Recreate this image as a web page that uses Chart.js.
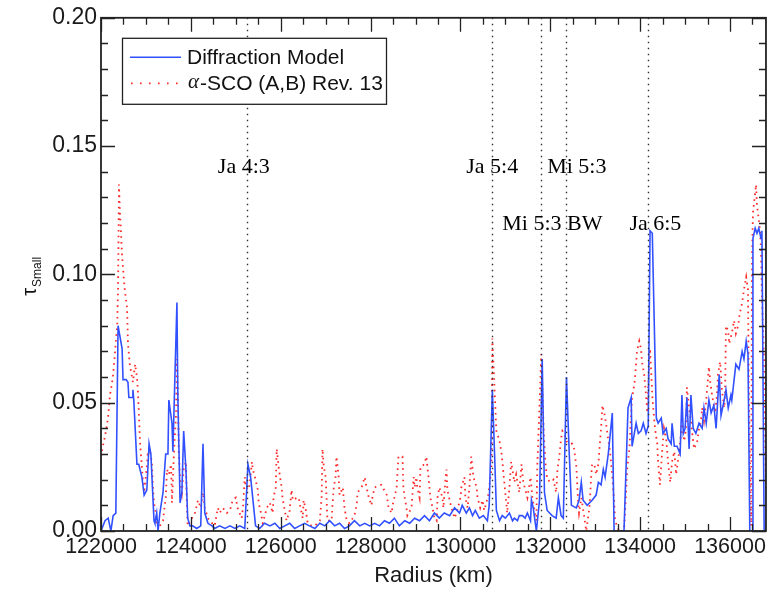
<!DOCTYPE html>
<html>
<head>
    <title>Diffraction Model vs alpha-SCO</title>
    <script src="https://cdn.jsdelivr.net/npm/chart.js@4.4.1/dist/chart.umd.min.js"></script>
    <style>
        body {
            margin: 0;
            background: #fff;
        }
        #wrap {
            width: 769px;
            height: 589px;
        }
    </style>
</head>
<body>
    <div id="wrap"><canvas id="chart" width="769" height="589"></canvas></div>

    <script>
        // diffraction model (blue)
        const modelRadius = [
            122000,122090,122160,122220,122270,122330,122380,122470,122490,122560,
            122600,122620,122690,122710,122730,122800,122840,122910,122960,123020,
            123070,123110,123180,123200,123240,123270,123310,123380,123440,123490,
            123510,123580,123600,123690,123710,123760,123800,123840,123890,123930,
            123980,124040,124130,124220,124270,124310,124380,124470,124530,124640,
            124760,124870,124980,125090,125200,125270,125330,125400,125440,125530,
            125640,125760,125870,125980,126090,126200,126310,126420,126530,126640,
            126760,126870,126980,127090,127200,127310,127420,127530,127640,127760,
            127870,127980,128090,128200,128310,128420,128530,128640,128760,128870,
            128980,129090,129200,129310,129420,129530,129640,129760,129870,129980,
            130040,130130,130200,130270,130330,130420,130510,130600,130640,130710,
            130760,130800,130870,130930,131000,131090,131160,131200,131270,131310,
            131380,131440,131490,131560,131580,131620,131690,131760,131820,131870,
            131930,132040,132130,132180,132240,132290,132360,132420,132470,132580,
            132640,132690,132730,132820,132930,133020,133070,133130,133180,133220,
            133290,133380,133420,133640,133730,133800,133820,133910,133960,134020,
            134070,134130,134180,134220,134270,134360,134400,134470,134510,134580,
            134620,134690,134710,134760,134820,134890,134930,134960,135000,135040,
            135090,135130,135180,135240,135310,135380,135420,135470,135530,135580,
            135640,135690,135760,135800,135870,135910,135960,136020,136040,136130,
            136200,136270,136310,136360,136400,136440,136490,136510,136560,136600,
            136640,136690,136710,136760,136800
        ];
        const modelTau = [
            0,.004,.005,0,.006,.007,.080,.071,.059,.059,
            .058,.052,.052,.055,.051,.026,.026,.021,.014,.016,
            .034,.030,.004,.003,.007,0,.007,.015,.030,.030,
            .051,.042,.031,.089,.053,.011,.015,.039,.024,.005,
            .002,.002,.001,.002,.034,.007,.003,.002,.001,.002,
            .001,.002,.001,.002,.001,.026,.021,.009,.002,.001,
            .003,.002,.003,.001,.002,.003,.001,.002,.003,.002,
            .001,.003,.002,.004,.002,.003,.001,.002,.004,.002,
            .003,.002,.003,.002,.004,.003,.005,.002,.004,.003,
            .005,.004,.006,.004,.007,.005,.007,.006,.009,.007,
            .010,.007,.009,.006,.008,.005,.006,.004,.010,.055,
            .030,.008,.004,.006,.005,.007,.004,.005,.004,.006,
            .006,.005,.007,.004,.012,.009,0,.012,.067,.015,
            .008,.006,.005,.013,.006,.005,.060,.031,.010,.009,
            .012,.019,.012,.010,.012,.014,.019,.018,.024,.021,
            .030,.046,0,0,.048,.052,.033,.042,.038,.039,
            .042,.038,.041,.117,.116,.044,.042,.044,.038,.040,
            .036,.034,.042,.033,.033,.030,.053,.038,.040,.052,
            .032,.053,.040,.038,.042,.040,.048,.042,.051,.046,
            .049,.040,.061,.045,.051,.055,.048,.053,.051,.065,
            .063,.070,.067,.074,.069,0,0,.114,.118,.116,
            .118,.114,.117,0,0
        ];

        // alpha-SCO (A,B) Rev. 13 (red dotted)
        const scoRadius = [
            122000,122040,122090,122130,122160,122200,122240,122270,122310,122330,
            122360,122380,122400,122420,122470,122510,122530,122580,122600,122640,
            122670,122710,122760,122800,122820,122840,122870,122910,122930,122960,
            123020,123040,123090,123130,123160,123180,123220,123240,123310,123380,
            123440,123470,123510,123560,123580,123600,123620,123670,123690,123710,
            123730,123760,123800,123840,123890,123910,123930,124090,124160,124220,
            124270,124310,124380,124420,124530,124600,124640,124710,124800,124870,
            124930,125000,125040,125130,125160,125200,125220,125270,125310,125360,
            125380,125440,125490,125510,125560,125600,125690,125760,125820,125840,
            125890,125910,125960,126020,126040,126090,126130,126200,126240,126270,
            126360,126400,126440,126490,126510,126560,126600,126690,126760,126870,
            126910,126930,126960,127000,127020,127040,127130,127180,127220,127240,
            127290,127310,127380,127420,127470,127530,127640,127690,127710,127800,
            127870,127910,127960,128020,128040,128090,128240,128360,128400,128470,
            128490,128530,128580,128620,128710,128730,128760,128800,128820,128910,
            128960,128980,129020,129040,129090,129110,129200,129240,129290,129330,
            129380,129420,129470,129490,129530,129600,129620,129670,129690,129710,
            129760,129800,129870,129930,130000,130020,130090,130110,130160,130200,
            130240,130290,130360,130380,130440,130490,130530,130620,130640,130690,
            130710,130800,130870,130910,130960,131020,131040,131090,131130,131200,
            131240,131310,131360,131400,131490,131560,131600,131690,131710,131760,
            131800,131820,131850,131890,131930,132020,132070,132130,132160,132200,
            132240,132270,132310,132360,132420,132490,132530,132580,132620,132640,
            132690,132760,132800,132870,132910,132930,132980,133020,133070,133090,
            133130,133160,133200,133240,133270,133330,133380,133420,133440,133530,
            133640,133690,133710,133760,133800,133820,133870,133910,133930,133980,
            134020,134040,134090,134130,134160,134200,134220,134270,134290,134330,
            134380,134400,134440,134490,134530,134580,134620,134670,134710,134760,
            134800,134870,134910,134930,134980,135020,135040,135090,135130,135160,
            135200,135270,135310,135360,135380,135420,135470,135490,135530,135560,
            135600,135670,135710,135730,135780,135820,135870,135890,135910,135960,
            135980,136040,136090,136130,136180,136220,136270,136310,136360,136400,
            136420,136470,136490,136510,136580,136600,136670,136690,136710,136760,
            136780,136800
        ];
        const scoTau = [
            .029,.033,.037,.041,.045,.053,.057,.061,.069,.074,
            .080,.095,.135,.125,.107,.098,.094,.087,.073,.065,
            .062,.058,.065,.060,.055,.047,.034,.025,.020,.015,
            .025,.030,.031,.027,.016,.011,.007,.003,.002,.004,
            .013,.024,.022,.026,.011,.020,.029,.046,.067,.056,
            .031,.020,.015,.024,.027,.011,.002,.007,.012,.009,
            .015,.009,.005,.004,.002,.009,.007,.009,.007,.008,
            .012,.013,.009,.005,.009,.021,.017,.016,.018,.027,
            .024,.020,.016,.011,.007,.003,.009,.011,.007,.013,
            .017,.032,.024,.017,.013,.008,.004,.008,.016,.012,
            .013,.013,.009,.005,.012,.008,.003,.002,.002,.004,
            .013,.032,.025,.021,.013,.004,.004,.017,.021,.029,
            .021,.014,.017,.009,.004,.003,.006,.010,.015,.017,
            .021,.017,.013,.010,.013,.017,.018,.014,.009,.007,
            .010,.013,.017,.029,.029,.017,.013,.009,.006,.009,
            .021,.017,.021,.017,.013,.025,.026,.029,.021,.013,
            .009,.005,.004,.013,.017,.013,.009,.021,.024,.016,
            .012,.009,.005,.008,.013,.017,.021,.013,.009,.017,
            .029,.021,.017,.013,.009,.012,.008,.014,.017,.024,
            .075,.039,.035,.031,.022,.011,.007,.017,.027,.019,
            .022,.015,.026,.019,.013,.021,.013,.004,.025,.049,
            .069,.057,.040,.027,.020,.019,.020,.015,.024,.029,
            .036,.039,.038,.035,.034,.034,.032,.025,.011,.007,
            .013,.005,0,.009,.021,.026,.026,.022,.026,.031,
            .040,.049,.046,.042,.038,.031,.021,.012,.004,0,
            0,.016,.024,.032,.046,.052,.057,.065,.070,.074,
            .071,.066,.061,.053,.046,.066,.071,.053,.048,.040,
            .034,.027,.018,.031,.040,.036,.027,.019,.027,.031,
            .022,.031,.038,.043,.035,.040,.056,.048,.043,.038,
            .032,.035,.040,.044,.048,.043,.051,.055,.064,.058,
            .053,.046,.053,.061,.066,.055,.048,.053,.080,.078,
            .073,.077,.082,.077,.080,.085,.089,.094,.099,.094,
            .053,.002,.107,.124,.135,.127,.117,.109,.092,.066,
            .040,.015
        ];

        // axes
        const xTicks = [122000, 124000, 126000, 128000, 130000, 132000, 134000, 136000];
        const yTicks = [0, 0.05, 0.10, 0.15, 0.20];
        const xMinorStep = 500;
        const yMinorStep = 0.01;

        // resonance markers and their labels
        const resonanceNames = ['Ja 4:3', 'Ja 5:4', 'Mi 5:3 BW', 'Mi 5:3', 'Ja 6:5'];
        const resonanceRadius = [125240, 130710, 131800, 132360, 134180];
        const labelRadius = [124600, 130130, 130930, 131930, 133760];
        const labelTau = [0.1394, 0.1394, 0.1174, 0.1394, 0.1174];

        const sans = '"Liberation Sans", Arial, sans-serif';
        const serif = '"Liberation Serif", "Times New Roman", serif';
        const blue = '#3150ff';
        const red = '#ff2a2a';

        const toPoints = (xs, ys) => xs.map((x, i) => ({ x: x, y: ys[i] }));

        // box frame with inward ticks on all four sides
        const frame = {
            id: 'frame',
            afterDatasetsDraw(chart) {
                const { ctx, chartArea: a, scales: { x, y } } = chart;
                ctx.save();
                ctx.strokeStyle = '#222';
                ctx.lineWidth = 1.3;
                ctx.beginPath();
                const nx = Math.round((x.max - x.min) / xMinorStep);
                for (let i = 0; i <= nx; i++) {
                    const v = x.min + i * xMinorStep;
                    const len = v % 2000 === 0 ? 14 : 7;
                    const px = Math.round(x.getPixelForValue(v)) + 0.5;
                    ctx.moveTo(px, a.bottom);
                    ctx.lineTo(px, a.bottom - len);
                    ctx.moveTo(px, a.top);
                    ctx.lineTo(px, a.top + len);
                }
                const ny = Math.round((y.max - y.min) / yMinorStep);
                for (let i = 0; i <= ny; i++) {
                    const len = i % 5 === 0 ? 14 : 7;
                    const py = Math.round(y.getPixelForValue(y.min + i * yMinorStep)) + 0.5;
                    ctx.moveTo(a.left, py);
                    ctx.lineTo(a.left + len, py);
                    ctx.moveTo(a.right, py);
                    ctx.lineTo(a.right - len, py);
                }
                ctx.stroke();
                ctx.lineWidth = 1.8;
                ctx.strokeRect(a.left, a.top, a.right - a.left, a.bottom - a.top);
                ctx.restore();
            }
        };

        const resonances = {
            id: 'resonances',
            afterDatasetsDraw(chart) {
                const { ctx, chartArea: a, scales: { x, y } } = chart;
                ctx.save();
                ctx.strokeStyle = '#333';
                ctx.lineWidth = 1.4;
                ctx.setLineDash([1.4, 4.6]);
                resonanceRadius.forEach(r => {
                    const px = Math.round(x.getPixelForValue(r)) + 0.5;
                    ctx.beginPath();
                    ctx.moveTo(px, a.top);
                    ctx.lineTo(px, a.bottom);
                    ctx.stroke();
                });
                ctx.setLineDash([]);
                ctx.fillStyle = '#000';
                ctx.font = '22px ' + serif;
                ctx.textAlign = 'left';
                ctx.textBaseline = 'alphabetic';
                resonanceNames.forEach((name, i) => {
                    ctx.fillText(name, x.getPixelForValue(labelRadius[i]), y.getPixelForValue(labelTau[i]));
                });
                ctx.restore();
            }
        };

        const legendBox = {
            id: 'legendBox',
            afterDraw(chart) {
                const { ctx, chartArea: a } = chart;
                const left = a.left + 21, top = a.top + 20, w = 264, h = 66;
                ctx.save();
                ctx.fillStyle = '#fff';
                ctx.fillRect(left, top, w, h);
                ctx.strokeStyle = '#222';
                ctx.lineWidth = 1.3;
                ctx.strokeRect(left + 0.5, top + 0.5, w, h);

                ctx.strokeStyle = blue;
                ctx.lineWidth = 1.6;
                ctx.beginPath();
                ctx.moveTo(left + 8, top + 19.5);
                ctx.lineTo(left + 59, top + 19.5);
                ctx.stroke();

                ctx.strokeStyle = red;
                ctx.lineWidth = 1.8;
                ctx.setLineDash([1.6, 7.4]);
                ctx.beginPath();
                ctx.moveTo(left + 9, top + 45.5);
                ctx.lineTo(left + 59, top + 45.5);
                ctx.stroke();
                ctx.setLineDash([]);

                ctx.fillStyle = '#111';
                ctx.textBaseline = 'middle';
                ctx.font = '21px ' + sans;
                ctx.fillText('Diffraction Model', left + 65, top + 20);
                ctx.font = 'italic 21px ' + serif;
                ctx.fillText('\u03B1', left + 66, top + 45);
                const aw = ctx.measureText('\u03B1').width;
                ctx.font = '21px ' + sans;
                ctx.fillText('-SCO (A,B) Rev. 13', left + 67 + aw, top + 46);
                ctx.restore();
            }
        };

        // y title: tau with subscript "Small", rotated
        const yTitle = {
            id: 'yTitle',
            afterDraw(chart) {
                const { ctx, chartArea: a } = chart;
                ctx.save();
                ctx.translate(36, (a.top + a.bottom) / 2 + 2);
                ctx.rotate(-Math.PI / 2);
                ctx.fillStyle = '#111';
                ctx.textBaseline = 'alphabetic';
                ctx.font = '20px ' + sans;
                const tw = ctx.measureText('\u03C4').width;
                ctx.font = '12px ' + sans;
                const sw = ctx.measureText('Small').width;
                const start = -(tw + sw + 1) / 2;
                ctx.font = '20px ' + sans;
                ctx.fillText('\u03C4', start, 0);
                ctx.font = '12px ' + sans;
                ctx.fillText('Small', start + tw + 1, 5);
                ctx.restore();
            }
        };

        new Chart(document.getElementById('chart'), {
            type: 'line',
            data: {
                datasets: [
                    {
                        label: 'Diffraction Model',
                        data: toPoints(modelRadius, modelTau),
                        borderColor: blue,
                        borderWidth: 1.6,
                        pointRadius: 0,
                        tension: 0,
                        order: 1
                    },
                    {
                        label: '\u03B1-SCO (A,B) Rev. 13',
                        data: toPoints(scoRadius, scoTau),
                        borderColor: red,
                        borderWidth: 1.8,
                        borderDash: [1.6, 4.2],
                        pointRadius: 0,
                        tension: 0,
                        order: 2
                    }
                ]
            },
            options: {
                responsive: false,
                animation: false,
                layout: {
                    padding: { top: 13, right: 2, left: 0, bottom: 0 }
                },
                plugins: {
                    legend: { display: false },
                    tooltip: { enabled: false }
                },
                scales: {
                    x: {
                        type: 'linear',
                        min: 122000,
                        max: 136800,
                        afterBuildTicks: scale => {
                            scale.ticks = xTicks.map(v => ({ value: v }));
                        },
                        afterFit: scale => {
                            scale.height = 58;
                        },
                        grid: { display: false, drawTicks: false },
                        border: { display: false },
                        ticks: {
                            autoSkip: false,
                            maxRotation: 0,
                            padding: 3,
                            color: '#1a1a1a',
                            font: { family: sans, size: 21.5 },
                            callback: v => String(v)
                        },
                        title: {
                            display: true,
                            text: 'Radius (km)',
                            color: '#1a1a1a',
                            font: { family: sans, size: 22 },
                            padding: { top: 0, bottom: 0 }
                        }
                    },
                    y: {
                        min: 0,
                        max: 0.2,
                        afterBuildTicks: scale => {
                            scale.ticks = yTicks.map(v => ({ value: v }));
                        },
                        afterFit: scale => {
                            scale.width = 101;
                        },
                        grid: { display: false, drawTicks: false },
                        border: { display: false },
                        ticks: {
                            padding: 4,
                            color: '#1a1a1a',
                            font: { family: sans, size: 23 },
                            callback: v => v.toFixed(2)
                        }
                    }
                }
            },
            plugins: [frame, resonances, legendBox, yTitle]
        });
    </script>
</body>
</html>
